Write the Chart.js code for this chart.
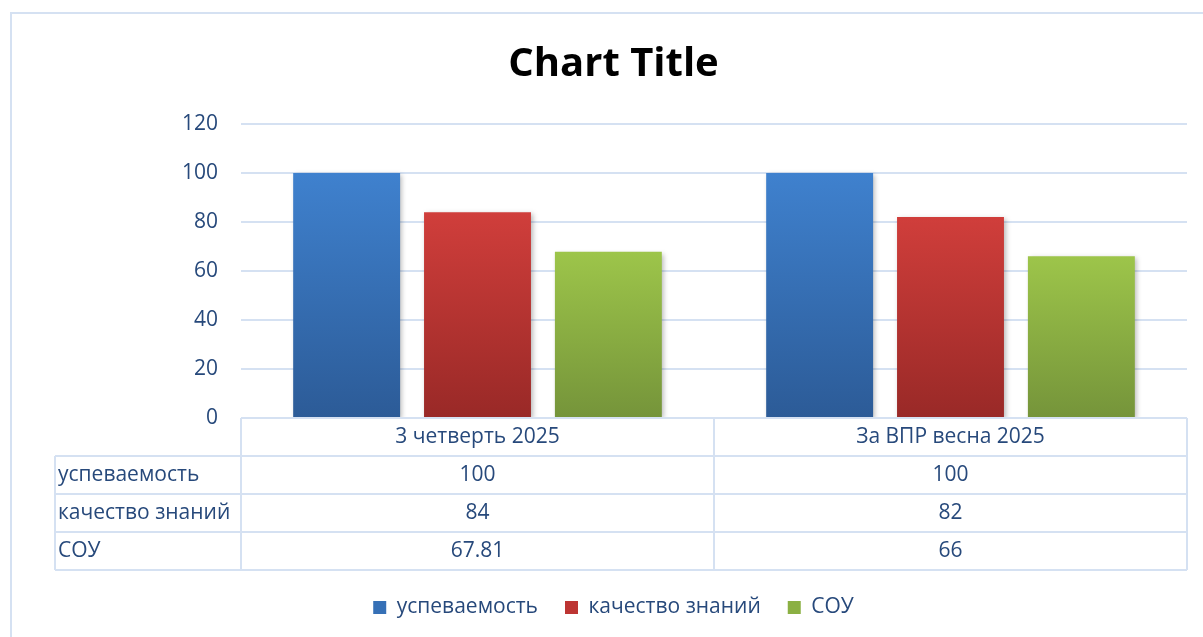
<!DOCTYPE html>
<html>
<head>
<meta charset="utf-8">
<script src="https://cdn.jsdelivr.net/npm/chart.js@4"></script>
<style>
  html, body { margin: 0; padding: 0; background: #fff; }
  #contenedor { width: 1203px; height: 637px; }
</style>
</head>
<body>
<div id="contenedor"><canvas id="grafico"></canvas></div>
<script>
// datos
const categorias = ['3 четверть 2025', 'За ВПР весна 2025'];
const nombresSeries = ['успеваемость', 'качество знаний', 'СОУ'];
const uspevaemost = [100, 100];
const kachestvo = [84, 82];
const sou = [67.81, 66];
const ticksY = [0, 20, 40, 60, 80, 100, 120];

const colores = [
  { arriba: '#3f81ce', abajo: '#2c5b97', medio: '#3670b6' },
  { arriba: '#d03e3b', abajo: '#992927', medio: '#bd3533' },
  { arriba: '#9dc54a', abajo: '#75943a', medio: '#8bb043' }
];
const colorTexto = '#27497b';
const colorLinea = '#d5e1f2';
const fuente = "'Open Sans', 'Noto Sans', sans-serif";

function degradado(i) {
  return (ctx) => {
    const chart = ctx.chart;
    const y = chart.scales && chart.scales.y;
    if (!chart.chartArea || !y || ctx.type !== 'data') return colores[i].medio;
    const arriba = y.getPixelForValue(ctx.raw);
    const abajo = y.getPixelForValue(0);
    if (!isFinite(arriba) || !isFinite(abajo) || arriba === abajo) return colores[i].medio;
    const g = chart.ctx.createLinearGradient(0, arriba, 0, abajo);
    g.addColorStop(0, colores[i].arriba);
    g.addColorStop(1, colores[i].abajo);
    return g;
  };
}

// marco exterior
const marco = {
  id: 'marco',
  beforeDraw(chart) {
    const ctx = chart.ctx;
    ctx.save();
    ctx.strokeStyle = colorLinea;
    ctx.lineWidth = 2;
    ctx.strokeRect(11, 13, 1300, 700);
    ctx.restore();
  }
};

// sombra de las barras
const sombra = {
  id: 'sombra',
  beforeDatasetsDraw(chart) {
    const ctx = chart.ctx;
    ctx.save();
    ctx.shadowColor = 'rgba(0,0,0,0.28)';
    ctx.shadowBlur = 5;
    ctx.shadowOffsetX = 2;
    ctx.shadowOffsetY = 2;
  },
  afterDatasetsDraw(chart) {
    chart.ctx.restore();
  }
};

// tabla de datos debajo del eje
const tablaDatos = {
  id: 'tablaDatos',
  afterDraw(chart) {
    const { ctx, chartArea } = chart;
    const x = chart.scales.x;
    const arriba = chartArea.bottom;
    const filaH = 38;
    const izq = 55;
    const der = chartArea.right;
    const n = categorias.length;
    const ancho = (x.right - x.left) / n;
    const abajo = arriba + filaH * (nombresSeries.length + 1);

    ctx.save();
    ctx.strokeStyle = colorLinea;
    ctx.lineWidth = 2;
    ctx.beginPath();
    ctx.moveTo(x.left, arriba);
    ctx.lineTo(der, arriba);
    for (let k = 1; k <= nombresSeries.length + 1; k++) {
      ctx.moveTo(izq, arriba + filaH * k);
      ctx.lineTo(der, arriba + filaH * k);
    }
    ctx.moveTo(izq, arriba + filaH);
    ctx.lineTo(izq, abajo);
    for (let i = 0; i <= n; i++) {
      const xx = x.left + ancho * i;
      ctx.moveTo(xx, arriba);
      ctx.lineTo(xx, abajo);
    }
    ctx.stroke();

    ctx.fillStyle = colorTexto;
    ctx.font = '21px ' + fuente;
    ctx.textBaseline = 'middle';
    ctx.textAlign = 'center';
    categorias.forEach((c, i) => {
      ctx.fillText(c, x.left + ancho * (i + 0.5), arriba + filaH / 2);
    });
    chart.data.datasets.forEach((ds, k) => {
      const yy = arriba + filaH * (k + 1.5);
      ctx.textAlign = 'left';
      ctx.fillText(ds.label, izq + 3, yy);
      ctx.textAlign = 'center';
      ds.data.forEach((v, i) => {
        ctx.fillText(String(v), x.left + ancho * (i + 0.5), yy);
      });
    });
    ctx.restore();
  }
};

const valores = [uspevaemost, kachestvo, sou];

new Chart(document.getElementById('grafico'), {
  type: 'bar',
  data: {
    labels: categorias,
    datasets: nombresSeries.map((nombre, i) => ({
      label: nombre,
      data: valores[i],
      backgroundColor: degradado(i),
      borderWidth: 0,
      categoryPercentage: 0.83,
      barPercentage: 0.817
    }))
  },
  options: {
    responsive: true,
    maintainAspectRatio: false,
    animation: false,
    layout: { padding: { top: 0, right: 16, bottom: 9, left: 40 } },
    plugins: {
      title: {
        display: true,
        text: 'Chart Title',
        color: '#000',
        font: { family: fuente, size: 40, weight: 'bold' },
        padding: { top: 41, bottom: 35 }
      },
      legend: {
        position: 'bottom',
        labels: {
          color: colorTexto,
          font: { family: fuente, size: 21 },
          boxWidth: 13,
          boxHeight: 13,
          padding: 27,
          generateLabels(chart) {
            const items = Chart.defaults.plugins.legend.labels.generateLabels(chart);
            items.forEach((it, i) => {
              it.fillStyle = colores[i].medio;
              it.strokeStyle = colores[i].medio;
              it.lineWidth = 0;
            });
            return items;
          }
        }
      },
      tooltip: { enabled: false }
    },
    scales: {
      x: {
        grid: { display: false },
        border: { display: false },
        ticks: { display: false },
        afterFit(scale) { scale.height = 152; }
      },
      y: {
        min: 0,
        max: 120,
        afterBuildTicks(scale) { scale.ticks = ticksY.map(v => ({ value: v })); },
        afterFit(scale) { scale.width = 201; },
        grid: { color: colorLinea, lineWidth: 2, drawTicks: false },
        border: { display: false },
        ticks: {
          color: colorTexto,
          font: { family: fuente, size: 21 },
          padding: 23
        }
      }
    }
  },
  plugins: [marco, sombra, tablaDatos]
});
</script>
</body>
</html>
